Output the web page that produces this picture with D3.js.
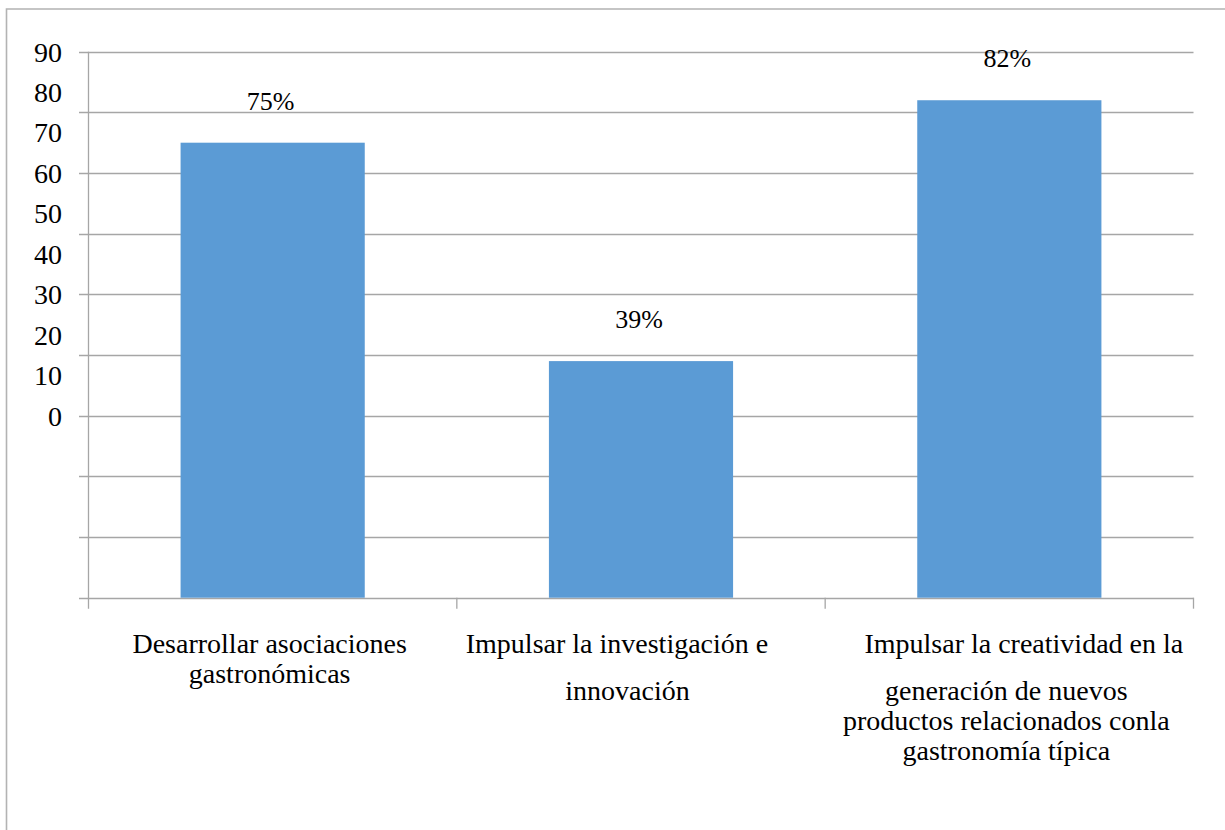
<!DOCTYPE html>
<html>
<head>
<meta charset="utf-8">
<script src="https://cdn.jsdelivr.net/npm/d3@7"></script>
<style>
  html, body { margin: 0; padding: 0; background: #ffffff; }
  svg { display: block; }
  svg text.lbl { font-family: "Times New Roman", "Liberation Serif", Tinos, serif !important; }
</style>
</head>
<body>
<svg id="chart" width="1225" height="830"></svg>
<script>
// Categories (each label split into paragraphs of lines)
const categories = [
  "Desarrollar asociaciones gastronómicas",
  "Impulsar la investigación e innovación",
  "Impulsar la creatividad en la generación de nuevos productos relacionados conla gastronomía típica"
];
const categoryLines = [
  [["Desarrollar asociaciones", "gastronómicas"]],
  [["Impulsar la investigación e      "], ["innovación   "]],
  [["     Impulsar la creatividad en la"], ["generación de nuevos", "productos relacionados conla", "gastronomía típica"]]
];
const values = [75, 39, 82];
const valueLabels = ["75%", "39%", "82%"];
const gridTicks = [0, 10, 20, 30, 40, 50, 60, 70, 80, 90];
const tickLabels = ["0", "10", "20", "30", "40", "50", "60", "70", "80", "90"];

const faces = ["Times New Roman", "Liberation Serif"];
const FONT = faces.map(f => `"${f}"`).join(", ") + ", serif";

const svg = d3.select("#chart");
const W = 1225, H = 830;
const plot = { left: 88.5, right: 1193.5, top: 51.7, bottom: 597.7 };

const x = d3.scaleBand()
  .domain(categories)
  .range([plot.left, plot.right])
  .paddingInner(0.5)
  .paddingOuter(0.25);

const y = d3.scaleLinear().domain([0, 90]).range([plot.bottom, plot.top]);
// Axis labels are set on their own compressed scale, from the 30 gridline up to the top
const yLabel = d3.scaleLinear().domain([0, 90]).range([y(30), y(90)]);

const gridColor = "#a6a6a6";

// Outer frame (top and left edges)
svg.append("path")
  .attr("d", `M6.5,${H} V9 H${W}`)
  .attr("fill", "none")
  .attr("stroke", "#b3b3b3")
  .attr("stroke-width", 1.6);

// Horizontal gridlines with short ticks left of the axis
svg.append("g").selectAll("line")
  .data(gridTicks)
  .join("line")
  .attr("x1", plot.left - 9.5)
  .attr("x2", plot.right)
  .attr("y1", d => Math.round(y(d)) + 0.5)
  .attr("y2", d => Math.round(y(d)) + 0.5)
  .attr("stroke", gridColor)
  .attr("stroke-width", 1.3);

// Vertical axis line
svg.append("line")
  .attr("x1", plot.left).attr("x2", plot.left)
  .attr("y1", y(90)).attr("y2", plot.bottom + 11)
  .attr("stroke", gridColor)
  .attr("stroke-width", 1.3);

// Category boundary ticks below the baseline
const step = x.step();
const bounds = [1, 2, 3].map(i => plot.left + i * step);
svg.append("g").selectAll("line")
  .data(bounds)
  .join("line")
  .attr("x1", d => d).attr("x2", d => d)
  .attr("y1", plot.bottom).attr("y2", plot.bottom + 11)
  .attr("stroke", gridColor)
  .attr("stroke-width", 1.3);

// Bars
svg.append("g").selectAll("rect")
  .data(values)
  .join("rect")
  .attr("x", (d, i) => x(categories[i]))
  .attr("width", x.bandwidth())
  .attr("y", d => y(d))
  .attr("height", d => y(0) - y(d))
  .attr("fill", "#5b9bd5");

// Value labels above bars
svg.append("g").selectAll("text")
  .data(values)
  .join("text")
  .attr("class", "lbl")
  .style("font-family", FONT)
  .style("font-size", "26px")
  .attr("x", (d, i) => x(categories[i]) + x.bandwidth() / 2 - 2)
  .attr("y", d => y(d) - 33)
  .attr("text-anchor", "middle")
  .attr("fill", "#000")
  .text((d, i) => valueLabels[i]);

// Y tick labels
svg.append("g").selectAll("text")
  .data(gridTicks)
  .join("text")
  .attr("class", "lbl")
  .style("font-family", FONT)
  .style("font-size", "28px")
  .attr("x", 62)
  .attr("y", d => yLabel(d))
  .attr("dy", "0.35em")
  .attr("text-anchor", "end")
  .attr("fill", "#000")
  .text((d, i) => tickLabels[i]);

// Category labels: lines 30px apart, paragraphs 47px apart
const lineStep = 30, paraStep = 47, firstBaseline = 653;
categoryLines.forEach((paras, i) => {
  const cx = x(categories[i]) + x.bandwidth() / 2 - 3;
  let by = firstBaseline;
  const g = svg.append("text")
    .attr("class", "lbl")
    .style("font-family", FONT)
    .style("font-size", "28px")
    .style("white-space", "pre")
    .attr("text-anchor", "middle")
    .attr("fill", "#000");
  paras.forEach((lines, p) => {
    if (p > 0) by += paraStep - lineStep;
    lines.forEach((ln, k) => {
      if (p > 0 || k > 0) by += lineStep;
      g.append("tspan").attr("x", cx).attr("y", by).text(ln);
    });
  });
});
</script>
</body>
</html>
